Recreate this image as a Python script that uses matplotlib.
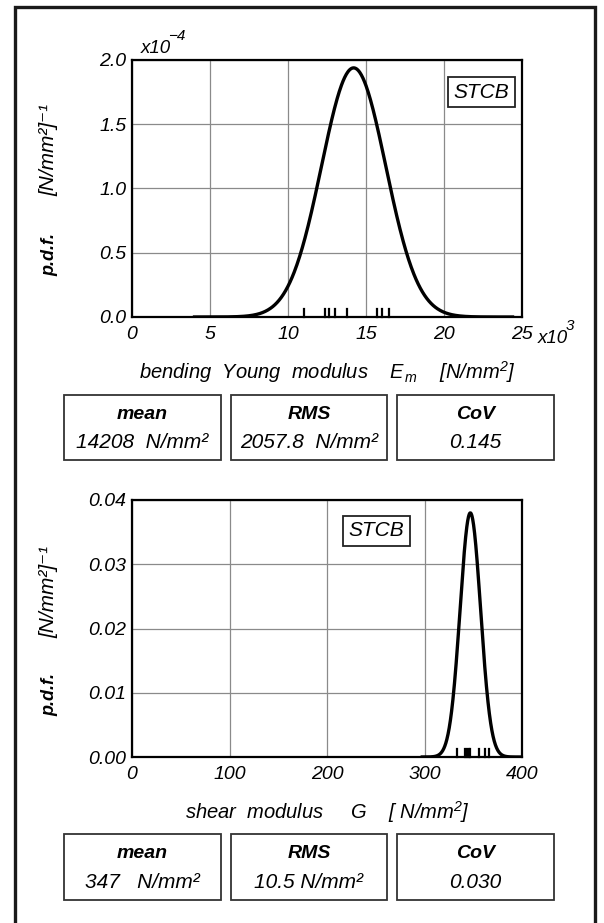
import numpy as np
import matplotlib
matplotlib.use('Agg')
import matplotlib.pyplot as plt
from matplotlib.patches import Rectangle
import matplotlib.transforms as mtransforms

FONT = ['Liberation Sans', 'DejaVu Sans']
plt.rcParams['font.family'] = FONT
plt.rcParams['font.style'] = 'italic'
plt.rcParams['mathtext.fontset'] = 'custom'
plt.rcParams['mathtext.it'] = 'Liberation Sans:italic'
plt.rcParams['mathtext.rm'] = 'Liberation Sans:italic'
plt.rcParams['mathtext.bf'] = 'Liberation Sans:bold:italic'

# ---------------- data ----------------
stat_names = ['mean', 'RMS', 'CoV']

E_mean = 14208.0          # N/mm2
E_rms = 2057.8            # N/mm2
E_cov = 0.145
E_samples = [11050, 12350, 12600, 13000, 13800, 15700, 16000, 16500]
E_curve_range = [3900, 24500]
E_xticks = [0, 5, 10, 15, 20, 25]          # x10^3
E_yticks = [0.0, 0.5, 1.0, 1.5, 2.0]       # x10^-4
E_xticklabels = ['0', '5', '10', '15', '20', '25']
E_yticklabels = ['0.0', '0.5', '1.0', '1.5', '2.0']
E_stat_texts = ['14208  N/mm\u00b2', '2057.8  N/mm\u00b2', '0.145']

G_mean = 347.0
G_rms = 10.5
G_cov = 0.030
G_samples = [333, 342, 344, 346, 347, 356, 362, 366]
G_curve_range = [296, 400]
G_xticks = [0, 100, 200, 300, 400]
G_yticks = [0.00, 0.01, 0.02, 0.03, 0.04]
G_xticklabels = ['0', '100', '200', '300', '400']
G_yticklabels = ['0.00', '0.01', '0.02', '0.03', '0.04']
G_stat_texts = ['347   N/mm\u00b2', '10.5 N/mm\u00b2', '0.030']

W, H = 604, 923
fig = plt.figure(figsize=(W / 100, H / 100), dpi=100)


def fx(px):
    return px / W


def fy(py):
    return 1 - py / H


def normal_pdf(x, m, s):
    return np.exp(-0.5 * ((x - m) / s) ** 2) / (s * np.sqrt(2 * np.pi))


def panel(top, bottom, mean, rms, samples, crange, xscale, yscale,
          xticks, yticks, xtl, ytl, stcb_box):
    ax = fig.add_axes([fx(132), fy(bottom), fx(522) - fx(132), fy(top) - fy(bottom)])
    xs = np.linspace(crange[0], crange[1], 600)
    ax.plot(xs / xscale, normal_pdf(xs, mean, rms) / yscale, color='black', lw=2.4,
            solid_capstyle='butt', zorder=3)
    trans = mtransforms.blended_transform_factory(ax.transData, ax.transAxes)
    for s in samples:
        ax.plot([s / xscale, s / xscale], [0, 0.033], transform=trans, color='black',
                lw=1.6, zorder=3, clip_on=False)
    ax.set_xlim(xticks[0], xticks[-1])
    ax.set_ylim(yticks[0], yticks[-1])
    ax.set_xticks(xticks)
    ax.set_yticks(yticks)
    ax.set_xticklabels(xtl, fontsize=14, style='italic')
    ax.set_yticklabels(ytl, fontsize=14, style='italic')
    ax.tick_params(length=0, pad=4)
    ax.tick_params(axis='x', pad=6.5)
    ax.grid(True, color='#8a8a8a', lw=0.9)
    ax.set_axisbelow(True)
    for sp in ax.spines.values():
        sp.set_linewidth(1.6)
        sp.set_color('black')
    # STCB label box
    x0, y0, x1, y1 = stcb_box
    fig.text(fx((x0 + x1) / 2), fy((y0 + y1) / 2), 'STCB', ha='center', va='center',
             fontsize=15, style='italic', zorder=5,
             bbox=dict(boxstyle='square,pad=0.25', fc='white', ec='#222222', lw=1.3))
    return ax


def ylabels(xc, y_pdf, y_unit):
    fig.text(fx(xc), fy(y_pdf), 'p.d.f.', rotation=90, ha='center', va='center',
             fontsize=13, weight='bold')
    fig.text(fx(xc - 1), fy(y_unit), '[N/mm\u00b2]\u207b\u00b9', rotation=90,
             ha='center', va='center', fontsize=15)


# top panel: bending Young modulus
ax1 = panel(60, 317, E_mean, E_rms, E_samples, E_curve_range, 1e3, 1e-4,
            E_xticks, E_yticks, E_xticklabels, E_yticklabels, (450, 76, 513, 108))
fig.text(fx(141), fy(53), 'x10', fontsize=13.5, ha='left', va='baseline')
fig.text(fx(168), fy(40), '\u22124', fontsize=11, ha='left', va='baseline')
fig.text(fx(538), fy(343), 'x10', fontsize=13.5, ha='left', va='baseline')
fig.text(fx(566), fy(330), '3', fontsize=11, ha='left', va='baseline')
fig.text(fx(327), fy(372), r'bending  Young  modulus    $E_{\,m}$    [N/mm$^{2}$]',
         ha='center', va='center', fontsize=14.5)
ylabels(50, 255, 150)

# bottom panel: shear modulus
ax2 = panel(500, 757, G_mean, G_rms, G_samples, G_curve_range, 1.0, 1.0,
            G_xticks, G_yticks, G_xticklabels, G_yticklabels, (345, 515, 408, 547))
fig.text(fx(327), fy(812), r'shear  modulus     G    [ N/mm$^{2}$]',
         ha='center', va='center', fontsize=14.5)
ylabels(50, 695, 592)

# stat boxes
box_x = [(64, 221), (231, 387), (397, 554)]


def stat_row(ytop, ybot, values):
    for (bx0, bx1), name, val in zip(box_x, stat_names, values):
        fig.patches.append(Rectangle((fx(bx0), fy(ybot)), fx(bx1) - fx(bx0),
                                     fy(ytop) - fy(ybot), transform=fig.transFigure,
                                     fill=False, ec='#333333', lw=1.3))
        cx = fx((bx0 + bx1) / 2)
        fig.text(cx, fy(ytop + 19), name, ha='center', va='center', fontsize=14,
                 weight='bold')
        fig.text(cx, fy(ytop + 48), val, ha='center', va='center', fontsize=15)


stat_row(395, 460, E_stat_texts)
stat_row(834, 900, G_stat_texts)

# outer frame (bottom edge lies outside the picture)
fig.patches.append(Rectangle((fx(15), fy(935)), fx(595) - fx(15), fy(7) - fy(935),
                             transform=fig.transFigure, fill=False, ec='#1a1a1a', lw=2.4))

fig.savefig('out.png', dpi=100)
